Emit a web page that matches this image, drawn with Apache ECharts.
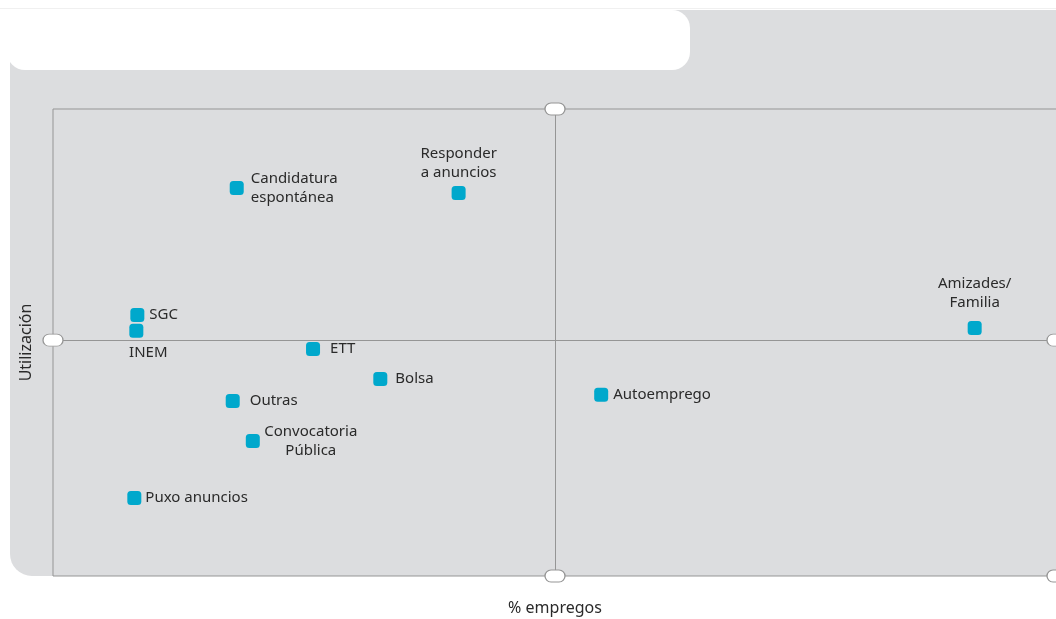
<!DOCTYPE html>
<html>
<head>
<meta charset="utf-8">
<script src="https://cdn.jsdelivr.net/npm/echarts@6/dist/echarts.min.js"></script>
<style>
  html, body { margin: 0; padding: 0; background: #fff; }
  #chart { width: 1056px; height: 619px; }
</style>
</head>
<body>
<div id="chart"></div>
<script>
// medios de busca de emprego
const names = ['Candidatura\nespontánea', 'Responder\na anuncios', 'SGC', 'INEM', 'ETT', 'Bolsa',
  'Outras', 'Convocatoria\nPública', 'Puxo anuncios', 'Autoemprego', 'Amizades/\nFamilia'];
const empregos = [18.3, 40.4, 8.4, 8.3, 25.9, 32.6, 17.9, 19.9, 8.1, 54.6, 91.8];
const utilizacion = [83.1, 82.0, 55.9, 52.5, 48.6, 42.2, 37.5, 28.9, 16.7, 38.8, 53.1];

// cruce dos cuadrantes
const midX = 50;
const midY = 50.5;

const blue = '#00a8cc';
const lineCol = '#959595';
const font = 'Noto Sans';

// onde vai cada etiqueta
const labelPos = {
  'Candidatura\nespontánea': { position: 'right', distance: 7 },
  'Responder\na anuncios': { position: 'top', distance: 4, align: 'center' },
  'SGC': { position: 'right', distance: 5 },
  'INEM': { position: 'bottom', distance: 5, offset: [12, 0] },
  'ETT': { position: 'right', distance: 10 },
  'Bolsa': { position: 'right', distance: 8 },
  'Outras': { position: 'right', distance: 10 },
  'Convocatoria\nPública': { position: [65, 7], align: 'center', verticalAlign: 'middle' },
  'Puxo anuncios': { position: 'right', distance: 4 },
  'Autoemprego': { position: 'right', distance: 5 },
  'Amizades/\nFamilia': { position: 'top', distance: 9, align: 'center' }
};

const points = names.map((n, i) => ({
  name: n,
  value: [empregos[i], utilizacion[i]],
  label: Object.assign({ show: true, formatter: '{b}' }, labelPos[n])
}));

const knobs = [[midX, 100], [midX, 0], [0, midY], [100, midY], [100, 0]];
const knobPath = 'path://M0,6 A6,6 0 0 1 6,0 L14,0 A6,6 0 0 1 14,12 L6,12 A6,6 0 0 1 0,6 Z';

const chart = echarts.init(document.getElementById('chart'));
chart.setOption({
  animation: false,
  graphic: [
    { type: 'rect', z: -10, shape: { x: 0, y: 8, width: 1056, height: 1 }, style: { fill: '#f0f0f0' } },
    { type: 'rect', z: -9, shape: { x: 10, y: 10, width: 1100, height: 566, r: [0, 0, 0, 22] }, style: { fill: '#dcdddf' } },
    { type: 'rect', z: -8, shape: { x: 7, y: 10, width: 683, height: 60, r: [0, 18, 18, 18] }, style: { fill: '#ffffff' } }
  ],
  grid: {
    left: 53, top: 109, width: 1004, bottom: 43,
    outerBoundsMode: 'none',
    show: true, borderColor: lineCol, borderWidth: 1, backgroundColor: 'transparent'
  },
  xAxis: {
    type: 'value', min: 0, max: 100,
    name: '% empregos', nameLocation: 'middle', nameGap: 24,
    nameTextStyle: { fontFamily: font, fontSize: 16, color: '#2a2a2a' },
    axisLine: { show: false }, axisTick: { show: false }, axisLabel: { show: false }, splitLine: { show: false }
  },
  yAxis: {
    type: 'value', min: 0, max: 100,
    name: 'Utilización', nameLocation: 'middle', nameGap: 19,
    nameTextStyle: { fontFamily: font, fontSize: 16, color: '#2a2a2a' },
    axisLine: { show: false }, axisTick: { show: false }, axisLabel: { show: false }, splitLine: { show: false }
  },
  series: [
    {
      type: 'scatter',
      symbol: 'roundRect',
      symbolSize: 14,
      itemStyle: { color: blue, opacity: 1 },
      label: { fontFamily: font, fontSize: 15, color: '#2a2a2a', lineHeight: 19 },
      data: points,
      z: 8,
      markLine: {
        silent: true,
        symbol: 'none',
        z: 2,
        label: { show: false },
        lineStyle: { color: lineCol, width: 1, type: 'solid' },
        data: [{ xAxis: midX }, { yAxis: midY }]
      }
    },
    {
      type: 'scatter',
      symbol: knobPath,
      symbolSize: [20, 12],
      silent: true,
      z: 6,
      itemStyle: { color: '#fff', borderColor: lineCol, borderWidth: 1, opacity: 1 },
      data: knobs
    }
  ]
});
</script>
</body>
</html>
